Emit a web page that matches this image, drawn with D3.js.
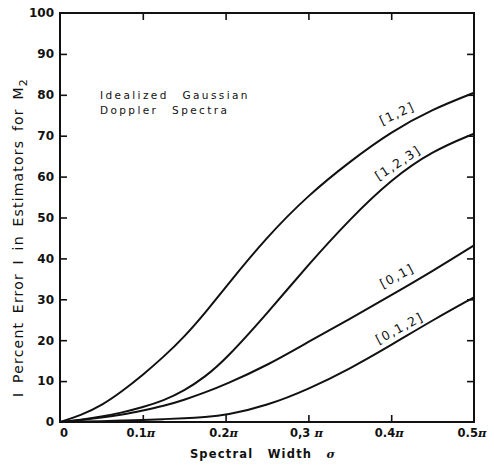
<!DOCTYPE html>
<html>
<head>
<meta charset="utf-8">
<script src="https://cdn.jsdelivr.net/npm/d3@7"></script>
<style>
  body { margin: 0; background: #fff; }
  text { font-family: "DejaVu Sans", sans-serif; fill: #111; }
</style>
</head>
<body>
<div class="chart"></div>
<script>
// spectral width sigma, in units of pi
var sigma = [0, 0.025, 0.05, 0.075, 0.1, 0.125, 0.15, 0.175, 0.2, 0.25, 0.3, 0.35, 0.4, 0.45, 0.5];

// |percent error| for each estimator
var est12   = [0, 1.6, 4.0, 7.5, 11.5, 15.9, 20.8, 26.6, 33, 45.3, 55.5, 63.7, 71, 76.5, 80.5];
var est123  = [0, 0.5, 1.3, 2.3, 3.6, 5.2, 7.6, 11, 15.3, 26.5, 38.5, 49.6, 59.3, 66.3, 70.5];
var est01   = [0, 0.5, 1.1, 1.8, 2.8, 3.9, 5.4, 7.2, 9.2, 13.8, 19.6, 25.2, 31, 36.9, 43.2];
var est012  = [0, 0.1, 0.2, 0.35, 0.5, 0.7, 0.9, 1.2, 1.6, 4.0, 8.0, 13, 18.8, 24.9, 30.5];

var seriesNames = ["[1,2]", "[1,2,3]", "[0,1]", "[0,1,2]"];
var seriesValues = [est12, est123, est01, est012];

var xTicks = [0, 0.1, 0.2, 0.3, 0.4, 0.5];
var xTickLabels = ["0", "0.1", "0.2", "0,3 ", "0.4", "0.5"];
var yTicks = [0, 10, 20, 30, 40, 50, 60, 70, 80, 90, 100];

// x,y,width,height
var margin = {top: 13, left: 60, right: 20, bottom: 44};
var width = 414;
var height = 409;

const svg = d3.select(".chart")
  .append("svg")
  .attr("width", 494)
  .attr("height", 466)
  .append("g")
  .attr("transform", "translate(" + margin.left + "," + margin.top + ")");

var x = d3.scaleLinear().domain([0, 0.5]).range([0, width]);
var y = d3.scaleLinear().domain([0, 100]).range([height, 0]);

// frame
svg.append("rect")
  .attr("width", width)
  .attr("height", height)
  .attr("fill", "none")
  .attr("stroke", "#111")
  .attr("stroke-width", 2);

// inner ticks on all four sides
var tickLen = 7;
var innerX = xTicks.slice(1, -1);
var innerY = yTicks.slice(1, -1);

svg.append("g")
  .attr("transform", "translate(0," + height + ")")
  .call(d3.axisTop(x).tickValues(innerX).tickSize(tickLen).tickFormat(""))
  .call(g => g.select(".domain").remove());
svg.append("g")
  .call(d3.axisBottom(x).tickValues(innerX).tickSize(tickLen).tickFormat(""))
  .call(g => g.select(".domain").remove());
svg.append("g")
  .call(d3.axisRight(y).tickValues(innerY).tickSize(tickLen).tickFormat(""))
  .call(g => g.select(".domain").remove());
svg.append("g")
  .attr("transform", "translate(" + width + ",0)")
  .call(d3.axisLeft(y).tickValues(innerY).tickSize(tickLen).tickFormat(""))
  .call(g => g.select(".domain").remove());

svg.selectAll(".tick line").attr("stroke", "#111").attr("stroke-width", 1.6);

// y tick labels
svg.append("g")
  .selectAll("text")
  .data(yTicks)
  .enter()
  .append("text")
  .attr("x", -6)
  .attr("y", d => y(d))
  .attr("dy", "0.36em")
  .attr("text-anchor", "end")
  .attr("font-size", 12)
  .attr("font-weight", "bold")
  .text(d => d);

// x tick labels
var xl = svg.append("g")
  .selectAll("text")
  .data(xTicks)
  .enter()
  .append("text")
  .attr("x", (d, i) => x(d) + (i === 0 ? 4 : -2))
  .attr("y", height + 15)
  .attr("text-anchor", "middle")
  .attr("font-size", 11.5)
  .attr("font-weight", "bold");
xl.append("tspan").text((d, i) => xTickLabels[i]);
xl.filter(d => d > 0).append("tspan")
  .attr("font-style", "italic")
  .attr("font-family", "DejaVu Serif, serif")
  .text("\u03c0");

// axis titles
svg.append("text")
  .attr("x", width / 2 - 4)
  .attr("y", height + 36)
  .attr("text-anchor", "middle")
  .attr("font-size", 11.5)
  .attr("font-weight", "bold")
  .attr("letter-spacing", 1.2)
  .attr("word-spacing", 9)
  .html("Spectral Width <tspan font-style='italic' font-family='DejaVu Serif, serif'>\u03c3</tspan>");

var yTitle = svg.append("text")
  .attr("transform", "translate(-37," + (height / 2 + 20) + ") rotate(-90)")
  .attr("text-anchor", "middle")
  .attr("font-size", 14)
  .attr("letter-spacing", 1.2)
  .attr("word-spacing", 3);
yTitle.append("tspan").text("I Percent Error I in Estimators for M");
yTitle.append("tspan").attr("font-size", 11).attr("dy", 4).text("2");

// note
svg.append("text")
  .attr("x", 40)
  .attr("y", 86)
  .attr("font-size", 10.5)
  .attr("letter-spacing", 2.4)
  .attr("word-spacing", 8)
  .text("Idealized Gaussian");
svg.append("text")
  .attr("x", 40)
  .attr("y", 101)
  .attr("font-size", 10.5)
  .attr("letter-spacing", 2.4)
  .attr("word-spacing", 8)
  .text("Doppler Spectra");

// curves
var line = d3.line()
  .x((d, i) => x(sigma[i]))
  .y(d => y(d))
  .curve(d3.curveBasis);

svg.append("g")
  .selectAll("path")
  .data(seriesValues)
  .enter()
  .append("path")
  .attr("d", d => line(d))
  .attr("fill", "none")
  .attr("stroke", "#111")
  .attr("stroke-width", 2);

// curve labels, placed just above each curve
function valueAt(vals, s) {
  var i = d3.bisectRight(sigma, s) - 1;
  var t = (s - sigma[i]) / (sigma[i + 1] - sigma[i]);
  return vals[i] + t * (vals[i + 1] - vals[i]);
}
var labelAt = [0.407, 0.408, 0.407, 0.41];
var labelOff = [15, 12, 16, 12];
var labelAngle = [-25, -33, -28, -28];

svg.append("g")
  .selectAll("text")
  .data(seriesNames)
  .enter()
  .append("text")
  .attr("transform", (d, i) => "translate(" + x(labelAt[i]) + "," +
        (y(valueAt(seriesValues[i], labelAt[i])) - labelOff[i]) + ") rotate(" + labelAngle[i] + ")")
  .attr("text-anchor", "middle")
  .attr("dy", "0.35em")
  .attr("font-size", 12.5)
  .attr("letter-spacing", 1.5)
  .text(d => d);
</script>
</body>
</html>
